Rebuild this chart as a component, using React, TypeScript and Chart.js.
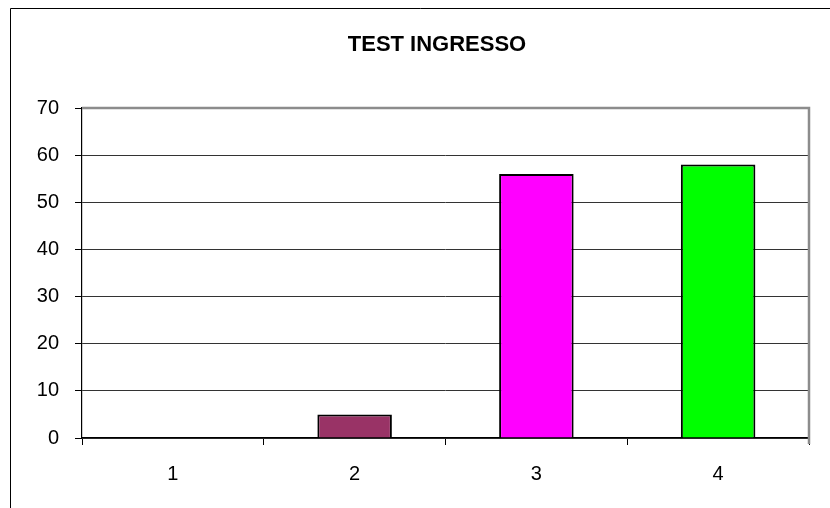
import React, { useEffect, useRef } from "react";
import { Chart, registerables } from "chart.js";

Chart.register(...registerables);

const TITLE = "TEST INGRESSO";
const categories = ["1", "2", "3", "4"];
const values = [0, 5, 56, 58];
const barColors = ["#000080", "#993366", "#FF00FF", "#00FF00"];
const yMin = 0;
const yMax = 70;
const yStep = 10;

const FONT = "'Liberation Sans', Arial, sans-serif";

const framePlugin = {
  id: "frame",
  afterDraw(chart: any) {
    const { ctx, chartArea } = chart;
    ctx.save();
    // outer chart border (top and left visible)
    ctx.strokeStyle = "#000";
    ctx.lineWidth = 1;
    ctx.beginPath();
    ctx.moveTo(10.5, 8.5);
    ctx.lineTo(830, 8.5);
    ctx.moveTo(10.5, 8.5);
    ctx.lineTo(10.5, 508);
    ctx.stroke();
    // plot area top/right grey border
    ctx.strokeStyle = "#8c8c8c";
    ctx.lineWidth = 2.5;
    ctx.beginPath();
    ctx.moveTo(chartArea.left, chartArea.top);
    ctx.lineTo(chartArea.right, chartArea.top);
    ctx.lineTo(chartArea.right, chartArea.bottom + 6);
    ctx.stroke();
    // title
    ctx.fillStyle = "#000";
    ctx.font = `bold 22px ${FONT}`;
    ctx.textAlign = "center";
    ctx.textBaseline = "middle";
    ctx.fillText(TITLE, 437, 45);
    ctx.restore();
  },
};

export default function App() {
  const ref = useRef<HTMLCanvasElement | null>(null);

  useEffect(() => {
    if (!ref.current) return;
    const chart = new Chart(ref.current, {
      type: "bar",
      data: {
        labels: categories,
        datasets: [
          {
            data: values,
            backgroundColor: barColors,
            borderColor: "#000",
            borderWidth: 2,
            barPercentage: 0.41,
            categoryPercentage: 1,
          },
        ],
      },
      options: {
        animation: false,
        responsive: false,
        maintainAspectRatio: false,
        layout: { padding: { top: 108, right: 21, left: 0, bottom: 0 } },
        plugins: {
          legend: { display: false },
          title: { display: false },
          tooltip: { enabled: false },
        },
        scales: {
          x: {
            afterFit: (s: any) => {
              s.height = 70;
            },
            grid: {
              offset: true,
              drawOnChartArea: false,
              drawTicks: true,
              tickLength: 7,
              tickColor: "#000",
            },
            border: { color: "#000", width: 1.2 },
            ticks: {
              color: "#000",
              padding: 17,
              font: { family: FONT, size: 20 },
            },
          },
          y: {
            min: yMin,
            max: yMax,
            afterFit: (s: any) => {
              s.width = 82;
            },
            grid: {
              color: "#333",
              lineWidth: 1,
              drawTicks: true,
              tickLength: 7,
              tickColor: "#000",
            },
            border: { color: "#000", width: 1.2 },
            ticks: {
              stepSize: yStep,
              color: "#000",
              padding: 16,
              font: { family: FONT, size: 20 },
            },
          },
        },
      },
      plugins: [framePlugin],
    });
    return () => chart.destroy();
  }, []);

  return (
    <div style={{ position: "absolute", left: 0, top: 0, width: 830, height: 508, background: "#fff" }}>
      <canvas ref={ref} width={830} height={508} style={{ width: 830, height: 508, display: "block" }} />
    </div>
  );
}
